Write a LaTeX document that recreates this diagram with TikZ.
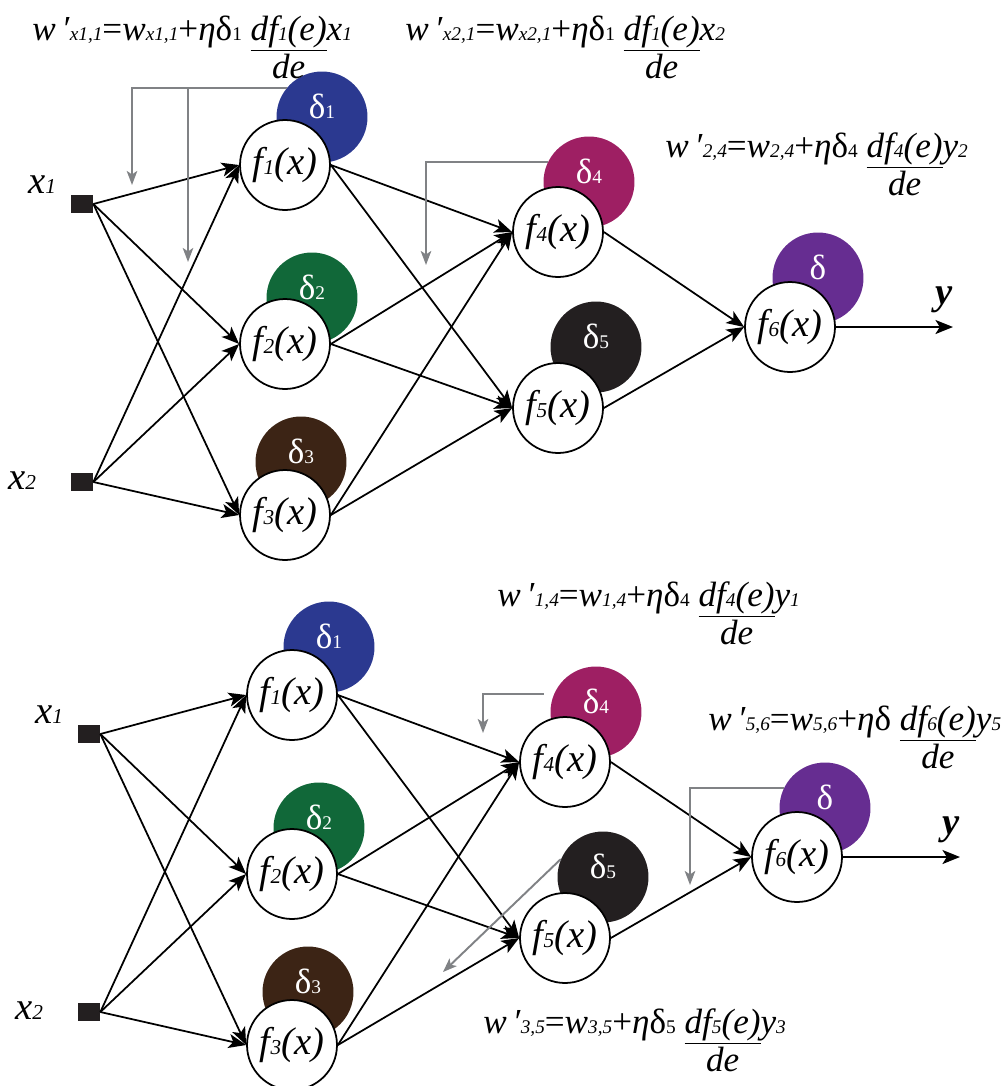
\documentclass[tikz,border=0pt]{standalone}
\usepackage{fontspec}
\setmainfont{Liberation Serif}
\usetikzlibrary{arrows.meta}

\definecolor{dblue}{RGB}{43,57,144}
\definecolor{dgreen}{RGB}{17,104,57}
\definecolor{dbrown}{RGB}{60,36,21}
\definecolor{dmagenta}{RGB}{158,31,99}
\definecolor{dblack}{RGB}{35,31,32}
\definecolor{dpurple}{RGB}{102,45,145}
\definecolor{fbgray}{RGB}{128,130,133}

% small index sitting on the baseline
\newcommand\lo[1]{\scalebox{0.55}{#1}}
% derivative written as df/de under the line
\newcommand\dfde[1]{\begin{tabular}[t]{@{}c@{}}\underline{\textit{df\lo{#1}(e)}}\\[-1pt]\textit{de}\end{tabular}}
% weight update rule
\newcommand\wrule[5]{\textit{w\,′}\lo{\textit{#1}}=\textit{w}\lo{\textit{#1}}+\textit{η}δ\lo{#2}\ \dfde{#3}\textit{#4}\lo{\textit{#5}}}

\begin{document}
\begin{tikzpicture}[x=0.02cm,y=-0.02cm,
	unit/.style={circle,draw,line width=1pt,fill=white,minimum size=1.8cm,inner sep=0pt,font=\fontsize{22}{26}\selectfont\itshape},
	err/.style={circle,minimum size=1.82cm,inner sep=0pt,text=white,text depth=12pt,font=\fontsize{20}{24}\selectfont},
	inp/.style={fill=dblack,minimum width=0.44cm,minimum height=0.36cm,inner sep=0pt},
	lbl/.style={inner sep=0pt,font=\fontsize{22}{26}\selectfont},
	arr/.style={line width=1pt,-{Stealth[length=10pt,width=8pt,inset=2.5pt]}},
	fb/.style={line width=1.1pt,draw=fbgray,-{Stealth[length=8pt,width=6pt,inset=2pt,fill=fbgray]}},
	rule/.style={anchor=base west,inner sep=0pt,font=\fontsize{20}{23}\selectfont}]
	\useasboundingbox (0,0) rectangle (1001,1086);

	% the same network twice, the second one lower down
	\foreach \n/\sx/\sy in {a/0/0,b/7/530}{
	\begin{scope}[shift={(\sx,\sy)}]
		\node[err,fill=dblue] (d1\n) at (322,117) {δ\lo{1}};
		\node[err,fill=dgreen] (d2\n) at (312,298) {δ\lo{2}};
		\node[err,fill=dbrown] (d3\n) at (301,462) {δ\lo{3}};
		\node[err,fill=dmagenta] (d4\n) at (589,182) {δ\lo{4}};
		\node[err,fill=dblack] (d5\n) at (596,347) {δ\lo{5}};
		\node[err,fill=dpurple] (d6\n) at (818,278) {δ};

		\node[unit] (f1\n) at (285,165) {f\lo{1}(x)};
		\node[unit] (f2\n) at (285,344) {f\lo{2}(x)};
		\node[unit] (f3\n) at (285,515) {f\lo{3}(x)};
		\node[unit] (f4\n) at (558,232) {f\lo{4}(x)};
		\node[unit] (f5\n) at (558,408) {f\lo{5}(x)};
		\node[unit] (f6\n) at (790,327) {f\lo{6}(x)};

		\node[inp] (x1\n) at (82,204) {};
		\node[inp] (x2\n) at (82,482) {};
		\node[lbl] (lx1\n) at (42,185) {\textit{x}\lo{\textit{1}}};
		\node[lbl] (lx2\n) at (22,481) {\textit{x}\lo{\textit{2}}};

		\draw[arr] (x1\n.east) -- (f1\n.west);
		\draw[arr] (x1\n.east) -- (f2\n.west);
		\draw[arr] (x1\n.east) -- (f3\n.west);
		\draw[arr] (x2\n.east) -- (f1\n.west);
		\draw[arr] (x2\n.east) -- (f2\n.west);
		\draw[arr] (x2\n.east) -- (f3\n.west);
		\draw[arr] (f1\n.east) -- (f4\n.west);
		\draw[arr] (f1\n.east) -- (f5\n.west);
		\draw[arr] (f2\n.east) -- (f4\n.west);
		\draw[arr] (f2\n.east) -- (f5\n.west);
		\draw[arr] (f3\n.east) -- (f4\n.west);
		\draw[arr] (f3\n.east) -- (f5\n.west);
		\draw[arr] (f4\n.east) -- (f6\n.west);
		\draw[arr] (f5\n.east) -- (f6\n.west);

		\coordinate (out\n) at (953,327);
		\draw[arr] (f6\n) -- (out\n);
		\node[lbl,font=\fontsize{22}{25}\selectfont\bfseries\itshape] (ly\n) at (944,300) {y};
	\end{scope}
	}

	% error fed back to the weights, upper net
	\coordinate (t1) at (132,185);
	\coordinate (t2) at (188,262);
	\coordinate (t3) at (426,265);
	\draw[fb] (d1a.140) -| (t1);
	\draw[fb] (t2 |- d1a.140) -- (t2);
	\draw[fb] (d4a.154) -| (t3);

	% lower net
	\coordinate (b1) at (483,733);
	\coordinate (b2) at (690,885);
	\coordinate (b3) at (443,972);
	\draw[fb] ([xshift=-0.2cm]d4b.157) -| (b1);
	\draw[fb] (d6b.154) -| (b2);
	\draw[fb] (d5b.157) -- (b3);

	\node[rule] (r1) at (32,40) {\wrule{x1,1}{1}{1}{x}{1}};
	\node[rule] (r2) at (405,40) {\wrule{x2,1}{1}{1}{x}{2}};
	\node[rule] (r3) at (665,157) {\wrule{2,4}{4}{4}{y}{2}};
	\node[rule] (r4) at (497,606) {\wrule{1,4}{4}{4}{y}{1}};
	\node[rule] (r5) at (708,730) {\wrule{5,6}{}{6}{y}{5}};
	\node[rule] (r6) at (483,1033) {\wrule{3,5}{5}{5}{y}{3}};
\end{tikzpicture}
\end{document}
